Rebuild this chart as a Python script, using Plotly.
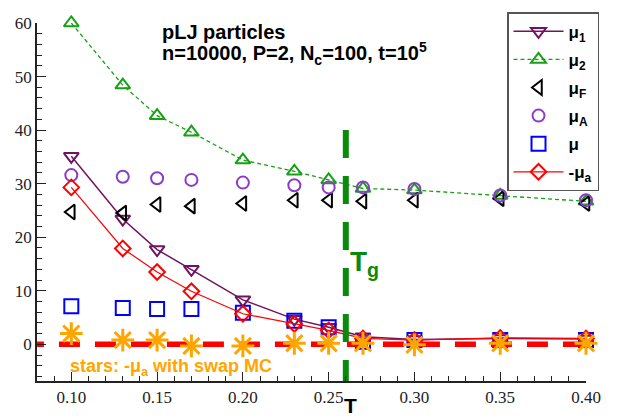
import plotly.graph_objects as go

T = [0.10, 0.13, 0.15, 0.17, 0.20, 0.23, 0.25, 0.27, 0.30, 0.35, 0.40]
mu1 = [35.1, 23.4, 17.7, 14.0, 8.3, 4.7, 3.2, 1.4, 0.9, 1.1, 1.0]
mu2 = [60.0, 48.4, 42.7, 39.6, 34.4, 32.3, 30.7, 29.1, 28.8, 27.8, 26.7]
muF = [24.7, 24.5, 26.1, 25.8, 26.3, 26.9, 26.9, 26.7, 26.9, 27.2, 26.3]
muA = [31.6, 31.3, 31.0, 30.7, 30.2, 29.7, 29.3, 29.3, 29.0, 27.8, 26.9]
mu = [7.1, 6.8, 6.6, 6.6, 5.9, 4.4, 3.2, 0.5, 0.8, 0.8, 0.8]
neg_mua = [29.3, 17.9, 13.5, 9.9, 5.7, 3.8, 2.6, 1.1, 0.8, 1.2, 1.1]
stars = [2.0, 0.8, 0.8, -0.3, -0.3, 0.2, 0.2, 0.2, -0.1, 0.2, 0.2]
zero_x = [0.0718, 0.40]
zero_y = [0, 0]
Tg = 0.26
Tg_y = [40, -6.85]

SANS = "Liberation Sans"
SERIF = "Liberation Serif"

fig = go.Figure()

def add(name, y, symbol, color, size, mode="markers", dash=None, lw=1.3):
    fig.add_trace(go.Scatter(
        x=T, y=y, name=name, mode=mode, cliponaxis=False, legendgroup=name,
        marker=dict(symbol=symbol, size=size, color=color, line=dict(color=color, width=2)),
        line=dict(color=color, width=lw, dash=dash) if "lines" in mode else None,
    ))

add("μ<sub>1</sub>", mu1, "triangle-down-open", "#6e1460", 13, mode="lines+markers", lw=1.5)
add("μ<sub>2</sub>", mu2, "triangle-up-open", "#16a016", 13, mode="lines+markers", dash="4px,3px", lw=1.3)
add("μ<sub>F</sub>", muF, "triangle-left-open", "#000000", 13)
add("μ<sub>A</sub>", muA, "circle-open", "#8a3cc8", 12)
add("μ", mu, "square-open", "#0000ff", 14)
add("-μ<sub>a</sub>", neg_mua, "diamond-open", "#ff0000", 12, mode="lines+markers", lw=1.2)

fig.add_trace(go.Scatter(x=zero_x, y=zero_y, mode="lines", showlegend=False,
                         line=dict(color="#ff0000", width=5.5, dash="21px,15px")))
fig.add_trace(go.Scatter(x=[Tg, Tg], y=Tg_y, mode="lines", showlegend=False, cliponaxis=False,
                         line=dict(color="#0a8a0a", width=6, dash="28px,18px")))
fig.add_trace(go.Scatter(x=T, y=stars, mode="markers", showlegend=False, cliponaxis=False,
                         marker=dict(symbol="asterisk-open", size=19, color="#ffa500",
                                     line=dict(color="#ffa500", width=3))))

axis_common = dict(showline=True, linecolor="#222222", linewidth=1.5, showgrid=False,
                   zeroline=False, ticks="inside", ticklen=9, tickwidth=1.3, tickcolor="#222222",
                   tickfont=dict(family=SERIF, size=17, color="#222222"))

fig.update_layout(
    width=622, height=419,
    margin=dict(l=37, r=36, t=14, b=33),
    paper_bgcolor="white", plot_bgcolor="white",
    xaxis=dict(range=[0.08, 0.40], tick0=0, dtick=0.05, tickformat=".2f",
               minor=dict(dtick=0.01, ticks="inside", ticklen=5, tickcolor="#222222"),
               **axis_common),
    yaxis=dict(range=[-6.85, 60], tick0=0, dtick=10,
               minor=dict(dtick=2, ticks="inside", ticklen=5, tickcolor="#222222"),
               **axis_common),
    legend=dict(x=1.0237, y=1.03, xanchor="right", yanchor="top",
                bordercolor="#555555", borderwidth=1.5, bgcolor="white",
                font=dict(family=SANS, size=17, color="black", weight="bold"),
                itemwidth=50, tracegroupgap=3),
    showlegend=True,
)

ann = [
    dict(text="<b>pLJ particles</b>", x=160, y=37),
    dict(text="<b>n=10000, P=2, N<sub>c</sub>=100, t=10<sup>5</sup></b>", x=160, y=63),
]
for a in ann:
    fig.add_annotation(text=a["text"], xref="paper", yref="paper",
                       x=(a["x"] - 37) / 549, y=(386 - a["y"]) / 372,
                       xanchor="left", yanchor="bottom", showarrow=False,
                       font=dict(family=SANS, size=20, color="black"))

fig.add_annotation(text="<b>T<sub>g</sub></b>", xref="x", yref="paper", x=Tg, xshift=2,
                   y=(386 - 284) / 372, xanchor="left", yanchor="bottom", showarrow=False,
                   font=dict(family=SANS, size=28, color="#0a8a0a"))
fig.add_annotation(text="<b>stars: -μ<sub>a</sub> with swap MC</b>", xref="paper", yref="paper",
                   x=(68 - 37) / 549, y=0, xanchor="left", yanchor="bottom",
                   showarrow=False, font=dict(family=SANS, size=18, color="#ffa500"))
fig.add_annotation(text="<b>T</b>", xref="paper", yref="paper",
                   x=(350 - 37) / 549, y=-(411 - 386) / 372, xanchor="center", yanchor="middle",
                   showarrow=False, font=dict(family=SANS, size=21, color="black"))

fig.write_html("out.html")
